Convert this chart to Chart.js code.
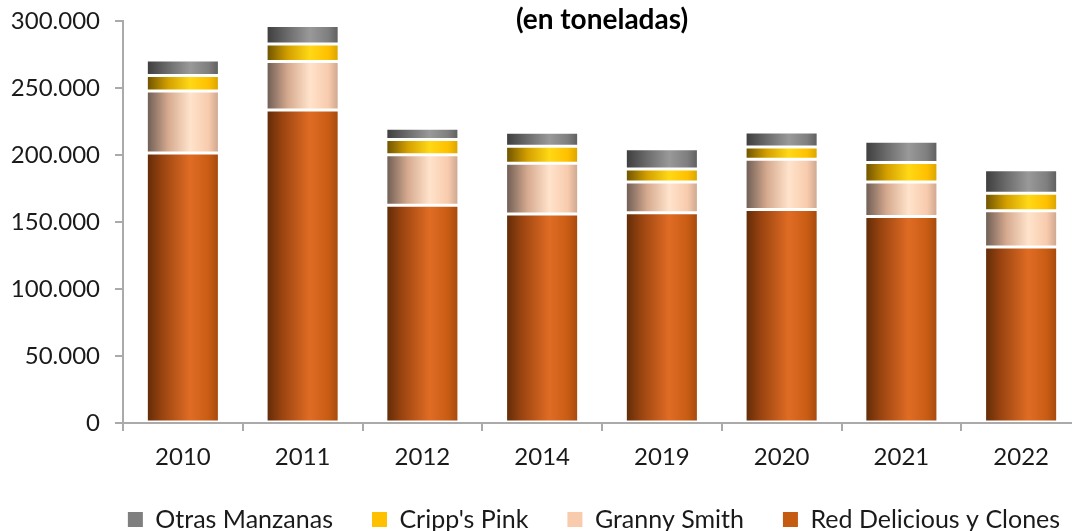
<!DOCTYPE html>
<html>
<head>
<meta charset="utf-8">
<script src="https://cdn.jsdelivr.net/npm/chart.js@4/dist/chart.umd.min.js"></script>
<style>
  html, body { margin: 0; padding: 0; overflow: hidden; background: #fff; }
  #wrap { width: 1188px; height: 542px; }
</style>
</head>
<body>
<div id="wrap"><canvas id="chart" width="1188" height="542"></canvas></div>
<script>
const years = ["2010", "2011", "2012", "2014", "2019", "2020", "2021", "2022"];

// toneladas, de abajo hacia arriba en la pila
const redDelicious = [201500, 233600, 162500, 156000, 156900, 159300, 154100, 131300];
const grannySmith = [46300, 36200, 37700, 37800, 23000, 37600, 25800, 27100];
const crippsPink = [11500, 13100, 11400, 12700, 9700, 9100, 14500, 13000];
const otrasManzanas = [11600, 13800, 8400, 10400, 15100, 11200, 15800, 17600];

const BAR_PCT = 0.61;
const FONT = "Lato";
const solid = ["#c55a11", "#f8cbad", "#ffc000", "#7f7f7f"];

// cylinder-like shading across each bar
function shaded(base, stops) {
  return (ctx) => {
    if (ctx.type !== "data") return base;
    const x = ctx.chart.scales.x;
    if (!x) return base;
    const cx = x.getPixelForValue(ctx.dataIndex);
    const half = (x.width / years.length) * BAR_PCT / 2;
    if (!Number.isFinite(cx) || !Number.isFinite(half) || half <= 0) return base;
    const g = ctx.chart.ctx.createLinearGradient(cx - half, 0, cx + half, 0);
    stops.forEach(([p, c]) => g.addColorStop(p, c));
    return g;
  };
}

const orangeStops = [[0, "#5e2a07"], [0.22, "#9a4410"], [0.6, "#e06c24"], [0.85, "#c95c14"], [1, "#a2480d"]];
const peachStops = [[0, "#6a5a52"], [0.3, "#d6aa8f"], [0.6, "#ffe3cb"], [0.85, "#f8cbad"], [1, "#c9a38c"]];
const yellowStops = [[0, "#6a5000"], [0.3, "#d4a000"], [0.6, "#ffd816"], [0.85, "#ffc000"], [1, "#d6a200"]];
const grayStops = [[0, "#3c3c3c"], [0.3, "#6c6c6c"], [0.6, "#999999"], [0.85, "#7f7f7f"], [1, "#5c5c5c"]];

function fmt(v) {
  return String(v).replace(/\B(?=(\d{3})+(?!\d))/g, ".");
}

const barStyle = {
  borderColor: "rgba(255,255,255,0.95)",
  borderWidth: 1.5,
  borderSkipped: false,
  barPercentage: BAR_PCT,
  categoryPercentage: 1
};

new Chart(document.getElementById("chart"), {
  type: "bar",
  data: {
    labels: years,
    datasets: [
      { label: "Red Delicious y Clones", data: redDelicious, backgroundColor: shaded(solid[0], orangeStops), ...barStyle },
      { label: "Granny Smith", data: grannySmith, backgroundColor: shaded(solid[1], peachStops), ...barStyle },
      { label: "Cripp's Pink", data: crippsPink, backgroundColor: shaded(solid[2], yellowStops), ...barStyle },
      { label: "Otras Manzanas", data: otrasManzanas, backgroundColor: shaded(solid[3], grayStops), ...barStyle }
    ]
  },
  options: {
    responsive: false,
    animation: false,
    layout: { padding: 0 },
    plugins: {
      title: {
        display: true,
        text: "(en toneladas)",
        fullSize: false,
        color: "#000",
        font: { family: FONT, size: 28, weight: "bold" },
        padding: { top: 2.7, bottom: -15.3 }
      },
      legend: {
        position: "bottom",
        reverse: true,
        labels: {
          boxWidth: 15,
          boxHeight: 15,
          padding: 39,
          color: "#1a1a1a",
          font: { family: FONT, size: 25 },
          generateLabels(chart) {
            const items = Chart.defaults.plugins.legend.labels.generateLabels(chart);
            items.forEach(i => {
              i.fillStyle = solid[i.datasetIndex];
              i.lineWidth = 0;
            });
            return items;
          }
        }
      },
      tooltip: { enabled: false }
    },
    scales: {
      x: {
        stacked: true,
        grid: { drawOnChartArea: false, tickLength: 8, color: "#aaaaaa", lineWidth: 2, offset: true },
        border: { color: "#aaaaaa", width: 2 },
        ticks: { padding: 12, color: "#1a1a1a", font: { family: FONT, size: 24 } },
        afterFit(s) { s.height = 45; }
      },
      y: {
        stacked: true,
        min: 0,
        max: 300000,
        grid: { drawOnChartArea: false, tickLength: 8, color: "#aaaaaa", lineWidth: 2 },
        border: { color: "#aaaaaa", width: 2 },
        ticks: { stepSize: 50000, padding: 15, color: "#1a1a1a", font: { family: FONT, size: 24, lineHeight: 0.25 }, callback: v => fmt(v) },
        afterFit(s) { s.width = 123; }
      },
      yRight: {
        position: "right",
        display: true,
        grid: { display: false },
        border: { display: false },
        ticks: { display: false },
        afterFit(s) { s.width = 107; }
      }
    }
  }
});
</script>
</body>
</html>
